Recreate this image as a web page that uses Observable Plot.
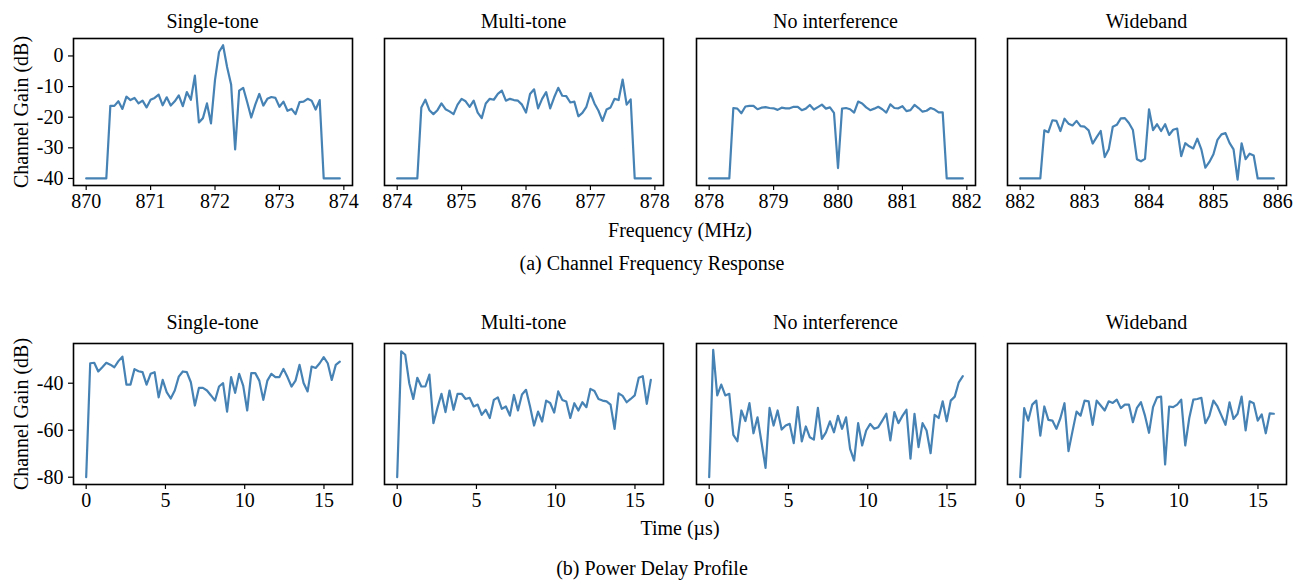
<!DOCTYPE html>
<html>
<head>
<meta charset="utf-8">
<script src="https://cdn.jsdelivr.net/npm/d3@7"></script>
<script src="https://cdn.jsdelivr.net/npm/@observablehq/plot@0.6"></script>
<style>
  html, body { margin: 0; padding: 0; background: white; }
  #fig { position: relative; width: 1304px; height: 583px; font-family: "Liberation Serif", "Times New Roman", serif; color: black; overflow: hidden; }
  .lbl { position: absolute; font-size: 20px; line-height: 20px; white-space: nowrap; text-align: center; }
  .panel { position: absolute; }
  .panel svg { background: transparent !important; max-width: none !important; overflow: visible; }
  .panel svg, .panel svg text { font-family: "Liberation Serif", "Times New Roman", serif !important; }
</style>
</head>
<body>
<div id="fig"></div>
<script>
// ---------- data ----------
const titles = ["Single-tone", "Multi-tone", "No interference", "Wideband"];
const freqStart = [870, 874, 878, 882];           // MHz, first sample of each band
const freqStep = 0.0625;                           // MHz between samples
const freqTicks = [[870,871,872,873,874],[874,875,876,877,878],[878,879,880,881,882],[882,883,884,885,886]];
const gainTicksCFR = [0, -10, -20, -30, -40];
const timeTicks = [0, 5, 10, 15];
const gainTicksPDP = [-40, -60, -80];
const timeEnd = 16;                                // µs, last delay sample (64 samples)

const cfrSingle = [-40,-40,-40,-40,-40,-40,
  -16.3,-16.3,-14.8,-17.3,-13.3,-14.4,-13.7,-15.5,-14.6,-16.8,-14.3,-13.7,-12.6,-16.1,-13.5,-16.2,-14.8,-12.9,-16.4,-11.8,-14.3,-6.4,-21.7,-20.3,-15.5,-22.0,-7.8,1.3,3.5,-3.6,-9.3,-30.5,-11.3,-10.4,-15.1,-20.1,-15.9,-12.4,-16.2,-14.0,-13.4,-13.7,-16.6,-14.9,-17.9,-17.3,-19.0,-15.1,-14.9,-14.0,-14.6,-17.5,-14.4,
  -40,-40,-40,-40,-40];
const cfrMulti = [-40,-40,-40,-40,-40,-40,
  -16.8,-14.3,-17.7,-19.0,-17.7,-15.5,-17.4,-18.1,-19.0,-15.9,-14.0,-14.8,-16.6,-14.6,-18.5,-20.3,-15.5,-14.0,-14.3,-12.4,-11.3,-14.6,-14.0,-14.4,-14.6,-15.9,-18.5,-12.4,-10.9,-17.1,-14.0,-11.8,-17.1,-13.5,-10.4,-13.0,-13.1,-15.2,-14.9,-19.7,-18.6,-16.6,-12.1,-15.5,-17.9,-21.2,-17.5,-16.8,-14.0,-14.4,-7.7,-15.9,-14.2,
  -40,-40,-40,-40,-40];
const cfrNone = [-40,-40,-40,-40,-40,-40,
  -17.0,-17.2,-18.7,-16.5,-16.3,-16.3,-17.4,-16.9,-16.7,-17.0,-17.1,-17.6,-16.9,-17.1,-17.1,-16.6,-16.6,-17.7,-17.2,-16.0,-17.5,-16.7,-15.9,-17.2,-16.8,-18.6,-36.6,-17.2,-17.0,-17.4,-18.5,-14.9,-15.5,-16.8,-17.7,-17.2,-16.6,-17.4,-18.5,-15.8,-17.0,-17.1,-16.4,-18.0,-17.7,-16.0,-17.0,-18.2,-17.9,-17.0,-17.5,-18.4,-18.4,
  -40,-40,-40,-40,-40];
const cfrWide = [-40,-40,-40,-40,-40,-40,
  -24.3,-24.9,-21.0,-21.2,-24.5,-20.5,-22.1,-22.7,-21.2,-22.9,-23.1,-24.3,-28.6,-26.5,-24.5,-33.0,-30.5,-23.1,-22.5,-20.4,-20.3,-21.9,-24.2,-33.7,-34.4,-33.6,-17.4,-24.2,-22.3,-24.5,-22.3,-25.8,-24.1,-23.7,-32.7,-28.5,-29.5,-30.2,-27.0,-30.5,-36.5,-34.6,-32.1,-27.4,-25.6,-25.2,-28.4,-30.5,-40.4,-28.5,-33.7,-31.9,-32.5,
  -40,-40,-40,-40,-40];

const pdpSingle = [-80,-31.5,-31.3,-35.0,-33.2,-31.3,-32.1,-33.2,-30.6,-28.7,-40.6,-40.6,-34.0,-34.9,-35.3,-40.6,-36.0,-35.3,-46.0,-38.6,-43.8,-46.5,-43.1,-37.2,-35.0,-35.3,-39.6,-49.5,-42.0,-42.0,-43.1,-45.2,-47.4,-41.4,-40.0,-52.1,-37.4,-44.1,-36.0,-41.0,-51.6,-35.7,-35.7,-38.9,-47.1,-38.9,-36.0,-37.4,-37.4,-33.9,-37.4,-41.4,-38.9,-32.2,-39.9,-43.5,-32.9,-33.5,-31.5,-28.9,-31.5,-38.6,-32.2,-30.8];
const pdpMulti = [-80,-26.4,-27.9,-40.0,-46.7,-37.7,-41.4,-41.4,-36.3,-57.0,-50.5,-44.5,-52.3,-43.1,-51.3,-44.5,-44.5,-46.7,-46.2,-49.9,-49.1,-53.5,-51.3,-54.8,-47.1,-46.0,-50.9,-49.9,-53.8,-45.0,-51.6,-44.8,-42.8,-49.9,-58.0,-52.1,-56.3,-47.4,-48.4,-52.5,-43.5,-47.1,-47.8,-54.8,-48.5,-51.6,-48.1,-50.2,-42.4,-43.3,-46.7,-47.4,-47.7,-49.1,-59.4,-44.3,-45.4,-48.1,-46.7,-45.2,-37.7,-37.0,-48.8,-38.6];
const pdpNone = [-80,-25.8,-45.2,-40.6,-45.2,-44.5,-62.0,-64.7,-51.6,-56.1,-48.5,-61.3,-54.5,-65.1,-76.0,-50.5,-58.0,-51.6,-59.7,-58.0,-57.3,-65.5,-50.2,-64.8,-58.4,-63.0,-64.0,-50.5,-63.7,-60.9,-56.2,-60.9,-53.9,-59.4,-54.5,-67.9,-72.9,-57.0,-66.5,-60.1,-57.3,-59.4,-58.7,-55.9,-53.0,-64.3,-52.3,-57.0,-53.9,-51.3,-72.1,-53.0,-67.2,-57.0,-60.1,-69.8,-53.5,-54.8,-47.7,-56.2,-47.4,-45.7,-39.6,-37.0];
const pdpWide = [-80,-50.6,-55.9,-49.1,-47.4,-62.3,-49.9,-55.6,-55.9,-59.4,-54.8,-48.5,-68.9,-60.4,-52.1,-53.8,-47.4,-47.7,-57.7,-47.4,-49.5,-51.6,-47.7,-48.4,-47.0,-50.6,-49.1,-49.1,-56.6,-50.5,-48.1,-53.8,-61.1,-50.2,-46.0,-45.7,-74.6,-49.9,-50.2,-49.1,-47.0,-66.5,-54.8,-47.0,-46.7,-46.2,-57.0,-53.8,-47.4,-49.9,-53.8,-57.7,-48.1,-55.2,-53.0,-45.7,-60.1,-47.7,-48.5,-55.9,-53.3,-61.3,-52.8,-53.0];

const cfrSeries = [cfrSingle, cfrMulti, cfrNone, cfrWide];
const pdpSeries = [pdpSingle, pdpMulti, pdpNone, pdpWide];

// ---------- layout ----------
const fig = document.getElementById("fig");
const frameLeft = [73, 384, 696, 1007];
const frameW = 279;
const rows = [
  {top: 38, h: 147, ydom: [-42.3, 5.7], yticks: gainTicksCFR},
  {top: 343, h: 141, ydom: [-83.1, -23.1], yticks: gainTicksPDP}
];
const lineColor = "#4682b4";
const fontFamily = '"Liberation Serif", "Times New Roman", serif';

function addLabel(text, cx, top, rotate) {
  const d = document.createElement("div");
  d.className = "lbl";
  d.textContent = text;
  fig.appendChild(d);
  const w = d.getBoundingClientRect().width;
  d.style.left = (cx - w / 2) + "px";
  if (rotate) {
    d.style.top = (top - 10) + "px";
    d.style.transform = "rotate(-90deg)";
  } else {
    d.style.top = top + "px";
  }
}

function panel(rowIdx, col, data, xdom, xticks) {
  const r = rows[rowIdx];
  const ml = col === 0 ? 75 : 10, mr = 25, mt = 5, mb = 35;
  const showY = col === 0;
  const marks = [
    Plot.line(data, {x: "x", y: "y", stroke: lineColor, strokeWidth: 2.2, strokeLinejoin: "round"}),
    Plot.frame({stroke: "black", strokeWidth: 1.6}),
    Plot.axisX({ticks: xticks, tickSize: 5, tickPadding: 3, tickFormat: d => String(d), label: null, fontSize: 20, fontFamily, stroke: "black", strokeWidth: 1.2})
  ];
  if (showY) marks.push(Plot.axisY({ticks: r.yticks, tickSize: 5, tickPadding: 5, tickFormat: d => String(d), label: null, fontSize: 20, fontFamily, stroke: "black", strokeWidth: 1.2}));
  const p = Plot.plot({
    width: frameW + ml + mr,
    height: r.h + mt + mb,
    marginLeft: ml, marginRight: mr, marginTop: mt, marginBottom: mb,
    style: {fontFamily, fontSize: "20px", background: "transparent", color: "black", overflow: "visible"},
    x: {domain: xdom, axis: null},
    y: {domain: r.ydom, axis: null},
    marks
  });
  const wrap = document.createElement("div");
  wrap.className = "panel";
  wrap.style.left = (frameLeft[col] - ml) + "px";
  wrap.style.top = (r.top - mt) + "px";
  wrap.appendChild(p);
  fig.appendChild(wrap);
}

// top row: channel frequency response
cfrSeries.forEach((vals, c) => {
  const data = vals.map((v, i) => ({x: freqStart[c] + i * freqStep, y: v}));
  const last = freqStart[c] + (vals.length - 1) * freqStep;
  const pad = (last - freqStart[c]) * 0.05;
  panel(0, c, data, [freqStart[c] - pad, last + pad], freqTicks[c]);
});
// bottom row: power delay profile
pdpSeries.forEach((vals, c) => {
  const n = vals.length;
  const data = vals.map((v, i) => ({x: i * timeEnd / (n - 1), y: v}));
  const pad = timeEnd * 0.05;
  panel(1, c, data, [-pad, timeEnd + pad], timeTicks);
});

// text
titles.forEach((t, c) => {
  const cx = frameLeft[c] + frameW / 2;
  addLabel(t, cx, 11);
  addLabel(t, cx, 312);
});
addLabel("Channel Gain (dB)", 21, 111.5, true);
addLabel("Channel Gain (dB)", 21, 413.5, true);
addLabel("Frequency (MHz)", 680, 220);
addLabel("(a) Channel Frequency Response", 652, 253);
addLabel("Time (\u00b5s)", 680, 518);
addLabel("(b) Power Delay Profile", 652, 558);
</script>
</body>
</html>
